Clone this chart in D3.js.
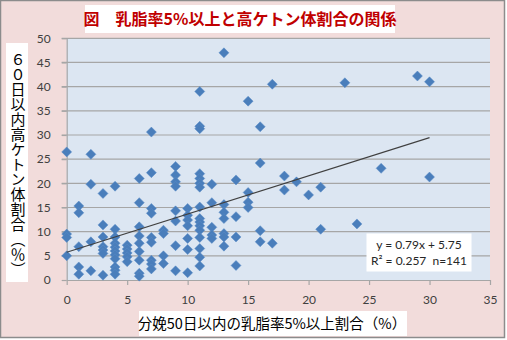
<!DOCTYPE html>
<html><head><meta charset="utf-8">
<script src="https://cdn.jsdelivr.net/npm/d3@7"></script>
<style>body{margin:0;background:#fff}svg{display:block}</style>
</head><body>
<svg id="c" width="507" height="340"></svg>
<script>
// ---- data ----
const titleText = "図　乳脂率5%以上と高ケトン体割合の関係";
const yTitle = "６０日以内高ケトン体割合（％）";
const xTitle = "分娩50日以内の乳脂率5%以上割合（%）";
const xTicks = [0, 5, 10, 15, 20, 25, 30, 35];
const yTicks = [0, 5, 10, 15, 20, 25, 30, 35, 40, 45, 50];
const pctHighFat = [
  0,0,0,0,
  1,1,1,1,1,
  2,2,2,2,
  3,3,3,3,3,3,3,
  4,4,4,4,4,4,4,4,4,4,4,
  5,5,5,5,5,
  6,6,6,6,6,6,6,6,6,
  7,7,7,7,7,7,7,7,7,
  8,8,8,8,
  9,9,9,9,9,9,9,9,
  10,10,10,10,10,10,10,
  11,11,11,11,11,11,11,11,11,11,11,11,11,11,11,11,
  12,12,12,12,12,
  13,13,13,13,13,13,13,
  14,14,14,14,
  15,15,15,15,
  16,16,16,16,
  17,17,
  18,18,
  19,
  20,
  21,21,
  23,
  24,
  26,
  29,
  30,30
];
const pctHighKetone = [
  26.5,9.5,8.8,5.0,
  15.3,13.9,6.9,2.7,1.2,
  26,19.8,7.9,1.9,
  17.9,11.4,8.9,6.9,6.2,5.5,1.0,
  19.4,10.5,8.9,7.6,6.8,6.0,5.2,4.4,2.7,2.0,1.2,
  7.2,6.4,5.6,4.8,3.8,
  21,16,11,9.1,7.6,5.9,4.1,1.4,0.8,
  30.6,22.2,14.8,13.8,8.8,7.8,4.1,3.3,2.3,
  10.3,9.6,5.0,3.4,
  23.5,21.7,20.3,19.4,14.3,12.2,7.1,1.9,
  14.8,13.4,12.4,11.2,8.6,6.3,1.5,
  39,31.8,31.3,22,21,20,19.2,15.1,12.7,12,11.2,10.3,8.8,6.5,4.7,2.9,
  19.8,16,10.9,9.3,8.6,
  47,15.6,14.0,12.7,9.6,8.9,7.0,
  20.7,13.1,8.9,3.0,
  37,18.1,16.1,15.0,
  31.7,24.2,10.2,7.9,
  40.5,7.6,
  21.5,18.6,
  20.3,
  17.6,
  19.2,10.5,
  40.8,
  11.6,
  23.1,
  42.2,
  41,21.3
];
const trendSlope = 0.79, trendIntercept = 5.75;
const trendRange = [0, 30];
const eqLines = ["y = 0.79x + 5.75", "R² = 0.257  n=141"];

// ---- drawing ----
const svg = d3.select("#c");
const L = 66.7, R = 490, T = 38.3, B = 280;
const x = d3.scaleLinear().domain([0, 35]).range([L, R]);
const y = d3.scaleLinear().domain([0, 50]).range([B, T]);
const latin = "Lato, 'Open Sans', sans-serif";
const cjk = "'Noto Sans CJK JP', sans-serif";

// outer frame
svg.append("rect").attr("x", 0.5).attr("y", 0.5).attr("width", 504).attr("height", 337)
  .attr("fill", "#F2DCDB").attr("stroke", "#8C8C8C").attr("stroke-width", 1.5);

// plot area
svg.append("rect").attr("x", L).attr("y", T).attr("width", R - L).attr("height", B - T)
  .attr("fill", "#DCE6F2");

// grid lines
svg.append("g").selectAll("line").data(yTicks.filter(d => d > 0)).join("line")
  .attr("x1", L - 5).attr("x2", R)
  .attr("y1", d => y(d)).attr("y2", d => y(d))
  .attr("stroke", "#A6A6A6").attr("stroke-width", 1.2);

// x axis
const gx = svg.append("g").attr("transform", `translate(0,${B})`)
  .call(d3.axisBottom(x).tickValues(xTicks).tickSize(5).tickSizeOuter(0).tickPadding(10));
gx.select(".domain").attr("stroke", "#A6A6A6").attr("stroke-width", 1.2);
gx.selectAll(".tick line").attr("stroke", "#A6A6A6").attr("stroke-width", 1.2);
gx.selectAll("text").attr("font-family", latin).attr("font-size", 12).attr("fill", "#404040");

// y axis
const gy = svg.append("g").attr("transform", `translate(${L},0)`)
  .call(d3.axisLeft(y).tickValues(yTicks).tickSize(5).tickSizeOuter(0).tickPadding(11));
gy.select(".domain").attr("stroke", "#A6A6A6").attr("stroke-width", 1.2);
gy.selectAll(".tick line").attr("stroke", "#A6A6A6").attr("stroke-width", 1.2);
gy.selectAll("text").attr("font-family", latin).attr("font-size", 12).attr("fill", "#404040");

// points
const pts = pctHighFat.map((v, i) => [v, pctHighKetone[i]]);
const diamond = "M0,-5L5,0L0,5L-5,0Z";
svg.append("g").selectAll("path").data(pts).join("path")
  .attr("d", diamond)
  .attr("transform", d => `translate(${x(d[0])},${y(d[1])})`)
  .attr("fill", "#4A7EBB").attr("stroke", "#5B8CC6").attr("stroke-width", 0.5);

// trend line
svg.append("line")
  .attr("x1", x(trendRange[0])).attr("y1", y(trendSlope * trendRange[0] + trendIntercept))
  .attr("x2", x(trendRange[1])).attr("y2", y(trendSlope * trendRange[1] + trendIntercept))
  .attr("stroke", "#404040").attr("stroke-width", 1.1);

// equation box
svg.append("rect").attr("x", 366.5).attr("y", 233.5).attr("width", 105).attr("height", 38)
  .attr("fill", "#fff");
svg.append("g").selectAll("text").data(eqLines).join("text")
  .attr("x", 419).attr("y", (d, i) => 249 + i * 16)
  .attr("text-anchor", "middle").attr("font-family", latin).attr("font-size", 12)
  .style("white-space", "pre")
  .attr("fill", "#262626").text(d => d);

// title
svg.append("rect").attr("x", 85).attr("y", 5).attr("width", 310).attr("height", 28).attr("fill", "#fff");
svg.append("text").attr("x", 240).attr("y", 25).attr("text-anchor", "middle")
  .attr("font-family", cjk).attr("font-weight", "bold").attr("font-size", 16)
  .attr("fill", "#C00000").text(titleText);

// y title
svg.append("rect").attr("x", 6).attr("y", 43).attr("width", 22).attr("height", 239).attr("fill", "#fff");
svg.append("text").attr("x", 18).attr("y", 164)
  .attr("text-anchor", "middle")
  .style("writing-mode", "vertical-rl")
  .attr("font-family", cjk).attr("font-size", 15).attr("fill", "#000")
  .text(yTitle);

// x title
svg.append("rect").attr("x", 139).attr("y", 311).attr("width", 268).attr("height", 25).attr("fill", "#fff");
svg.append("text").attr("x", 272).attr("y", 329).attr("text-anchor", "middle")
  .attr("font-family", cjk).attr("font-size", 14.5).attr("fill", "#000")
  .text(xTitle);
</script>
</body></html>
